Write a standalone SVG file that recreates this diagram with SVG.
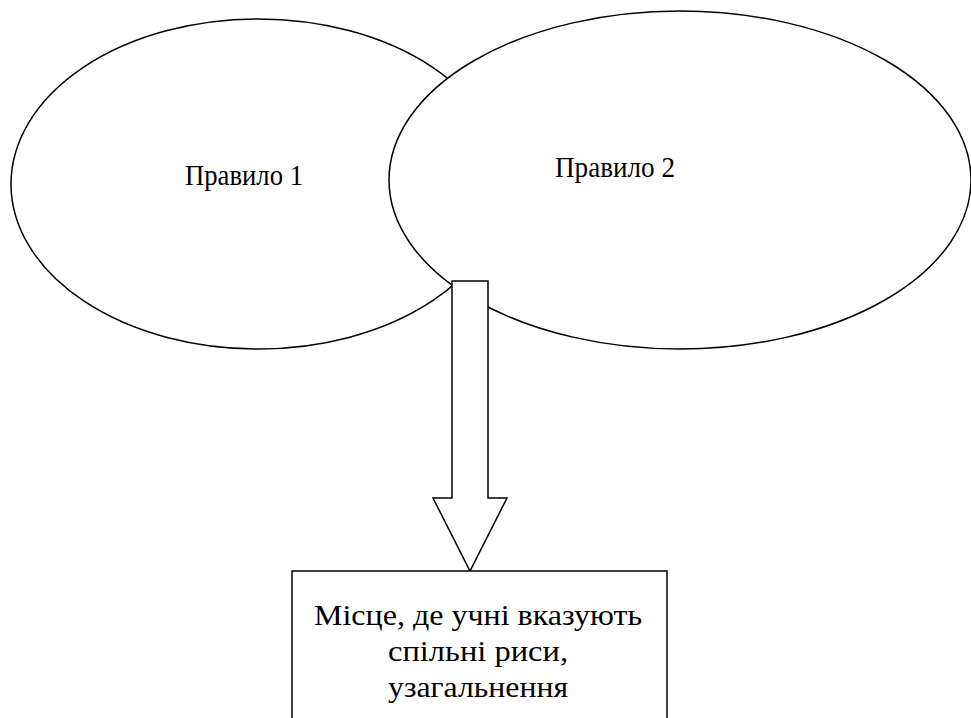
<svg xmlns="http://www.w3.org/2000/svg" width="971" height="718" viewBox="0 0 971 718">
<style>
.shape{fill:#fff;stroke:#000;stroke-width:1.5}
.t{font-family:"Liberation Serif","Times New Roman",serif;font-size:30px;fill:#000;text-anchor:middle}
</style>
<rect width="971" height="718" fill="#fff"/>
<g id="rule1">
<ellipse class="shape" cx="258" cy="184" rx="247" ry="165"/>
<text class="t" x="244" y="185" textLength="118" lengthAdjust="spacingAndGlyphs">Правило 1</text>
</g>
<g id="rule2">
<ellipse class="shape" cx="680" cy="180" rx="291" ry="169"/>
<text class="t" x="615" y="177" textLength="120" lengthAdjust="spacingAndGlyphs">Правило 2</text>
</g>
<g id="connectors">
<path class="shape" d="M452,281 H488 V498 H507 L470,571 L433,498 H452 Z"/>
</g>
<g id="common">
<rect class="shape" x="292" y="571" width="375" height="160"/>
<text class="t" x="478" y="625" textLength="328" lengthAdjust="spacingAndGlyphs">Місце, де учні вказують</text>
<text class="t" x="478" y="661" textLength="180" lengthAdjust="spacingAndGlyphs">спільні риси,</text>
<text class="t" x="478" y="697" textLength="180" lengthAdjust="spacingAndGlyphs">узагальнення</text>
</g>
</svg>
